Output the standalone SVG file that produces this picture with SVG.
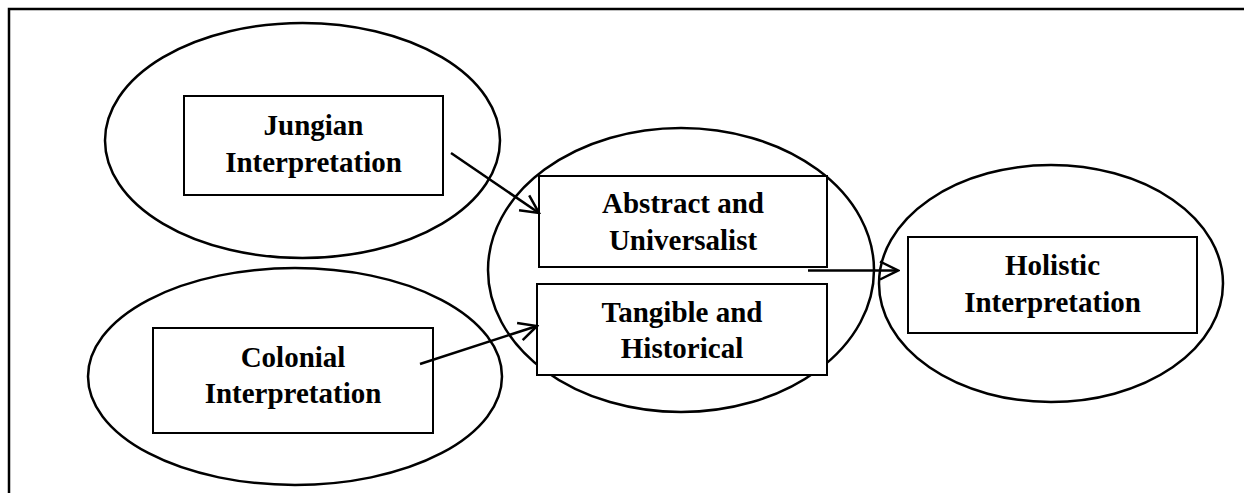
<svg xmlns="http://www.w3.org/2000/svg" width="1244" height="493" viewBox="0 0 1244 493">
<style>
.ell{fill:none;stroke:#000;stroke-width:2.5}
.box{fill:#fff;stroke:#000;stroke-width:2}
.lbl{font-family:"Liberation Serif","Times New Roman",serif;font-weight:bold;font-size:29px;fill:#000;text-anchor:middle}
.con{fill:none;stroke:#000;stroke-width:2.5}
</style>
<defs>
<marker id="arr" viewBox="0 0 22 22" refX="20" refY="11" markerWidth="22" markerHeight="22" markerUnits="userSpaceOnUse" orient="auto">
<path d="M2,2 L20,11 L2,20" fill="none" stroke="#000" stroke-width="2.5"/>
</marker>
</defs>
<rect width="1244" height="493" fill="#fff"/>
<path d="M9,493 L9,9 L1244,9" fill="none" stroke="#000" stroke-width="2.5"/>
<g id="jungian">
<ellipse class="ell" cx="302.5" cy="140.5" rx="197.5" ry="117.5"/>
<rect class="box" x="184" y="96" width="259" height="99"/>
<text class="lbl" x="313.5" y="135">Jungian</text>
<text class="lbl" x="313.5" y="172">Interpretation</text>
</g>
<g id="colonial">
<ellipse class="ell" cx="295" cy="376.5" rx="207" ry="108.5"/>
<rect class="box" x="153" y="328" width="280" height="105"/>
<text class="lbl" x="293" y="367">Colonial</text>
<text class="lbl" x="293" y="403">Interpretation</text>
</g>
<g id="central">
<ellipse class="ell" cx="681" cy="270" rx="193" ry="142"/>
</g>
<g id="abstract">
<rect class="box" x="539" y="176" width="288" height="91"/>
<text class="lbl" x="683" y="213">Abstract and</text>
<text class="lbl" x="683" y="250">Universalist</text>
</g>
<g id="tangible">
<rect class="box" x="537" y="284" width="290" height="91"/>
<text class="lbl" x="682" y="322">Tangible and</text>
<text class="lbl" x="682" y="358">Historical</text>
</g>
<g id="holistic">
<ellipse class="ell" cx="1051" cy="283.5" rx="172" ry="118.5"/>
<rect class="box" x="908" y="237" width="289" height="96"/>
<text class="lbl" x="1052.5" y="275">Holistic</text>
<text class="lbl" x="1052.5" y="312">Interpretation</text>
</g>
<g id="connectors">
<line class="con" x1="451" y1="153" x2="539" y2="213" marker-end="url(#arr)"/>
<line class="con" x1="420" y1="364" x2="537" y2="326" marker-end="url(#arr)"/>
<line class="con" x1="808" y1="270.5" x2="898" y2="270.5" marker-end="url(#arr)"/>
</g>
</svg>
